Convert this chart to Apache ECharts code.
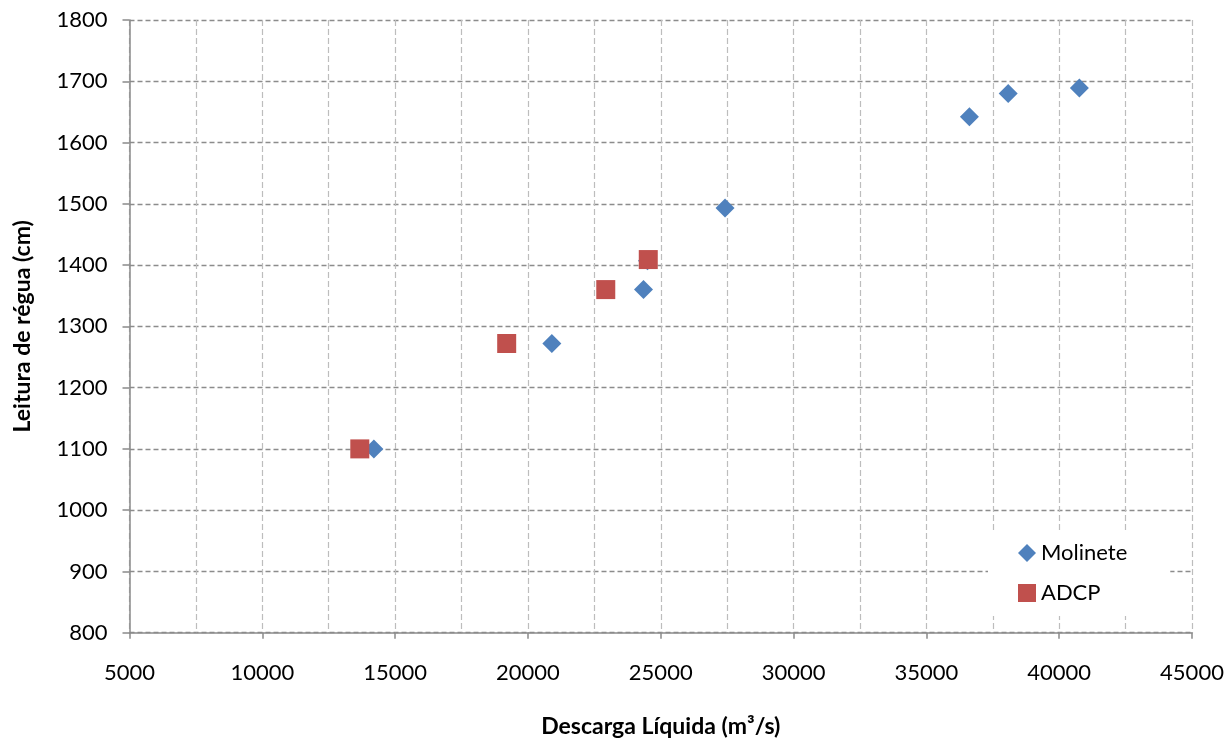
<!DOCTYPE html>
<html>
<head>
<meta charset="utf-8">
<script src="https://cdn.jsdelivr.net/npm/echarts@6/dist/echarts.min.js"></script>
<style>
  html, body { margin: 0; padding: 0; background: #fff; }
  #chart { width: 1228px; height: 738px; }
</style>
</head>
<body>
<div id="chart"></div>
<script>
// Discharge (m³/s) vs. gauge reading (cm)
const molineteDischarge = [14200, 20900, 24350, 24500, 27420, 36620, 38080, 40760];
const molineteGauge     = [1100, 1272, 1360, 1407, 1493, 1642, 1680, 1689];
const adcpDischarge = [13670, 19200, 22930, 24530];
const adcpGauge     = [1100, 1272, 1360, 1409];

const seriesNames = ['Molinete', 'ADCP'];
const xTitle = 'Descarga Líquida (m³/s)';
const yTitle = 'Leitura de régua (cm)';

const pairs = (xs, ys) => xs.map((x, i) => [x, ys[i]]);
const plain = v => String(v);

const FONT = 'Lato, "Open Sans", sans-serif';
const axisGray = '#8a8a8a';

const chart = echarts.init(document.getElementById('chart'), null, { renderer: 'canvas' });
chart.setOption({
  animation: false,
  backgroundColor: '#ffffff',
  grid: { left: 129.5, right: 36, top: 20, bottom: 105.3, containLabel: false, outerBoundsMode: 'none' },
  xAxis: {
    type: 'value',
    min: 5000, max: 45000, interval: 5000,
    name: xTitle,
    nameLocation: 'middle',
    nameGap: 82,
    nameTextStyle: { fontFamily: FONT, fontWeight: 'bold', fontSize: 23, color: '#000' },
    axisLine: { show: true, lineStyle: { color: axisGray, width: 1.5 } },
    axisTick: { show: true, length: 6, lineStyle: { color: axisGray, width: 1.5 } },
    axisLabel: { fontFamily: FONT, fontSize: 22, color: '#000', margin: 29, formatter: plain },
    splitLine: { show: true, lineStyle: { color: '#bdbdbd', type: [6, 3], width: 1.2 } },
    minorTick: { show: false, splitNumber: 2 },
    minorSplitLine: { show: true, lineStyle: { color: '#bdbdbd', type: [6, 3], width: 1.2 } }
  },
  yAxis: {
    type: 'value',
    min: 800, max: 1800, interval: 100,
    name: yTitle,
    nameLocation: 'middle',
    nameGap: 95,
    nameTextStyle: { fontFamily: FONT, fontWeight: 'bold', fontSize: 23, color: '#000' },
    axisLine: { show: true, lineStyle: { color: axisGray, width: 1.5 } },
    axisTick: { show: true, length: 7, lineStyle: { color: axisGray, width: 1.5 } },
    axisLabel: { fontFamily: FONT, fontSize: 22, color: '#000', margin: 22, formatter: plain },
    splitLine: { show: true, lineStyle: { color: '#8c8c8c', type: [5, 3], width: 1.3 } }
  },
  legend: {
    data: seriesNames,
    orient: 'vertical',
    left: 988,
    top: 530,
    padding: [12, 43, 12, 30],
    itemWidth: 18,
    itemHeight: 18,
    itemGap: 18,
    backgroundColor: '#ffffff',
    itemStyle: { opacity: 1 },
    textStyle: { fontFamily: FONT, fontSize: 22, color: '#000', padding: [0, 0, 0, 0] }
  },
  series: [
    {
      name: seriesNames[0],
      type: 'scatter',
      symbol: 'diamond',
      symbolSize: 19,
      itemStyle: { color: '#4f81bd', opacity: 1 },
      data: pairs(molineteDischarge, molineteGauge),
      z: 2
    },
    {
      name: seriesNames[1],
      type: 'scatter',
      symbol: 'rect',
      symbolSize: 19,
      itemStyle: { color: '#c0504d', opacity: 1 },
      data: pairs(adcpDischarge, adcpGauge),
      z: 3
    }
  ]
});
</script>
</body>
</html>
